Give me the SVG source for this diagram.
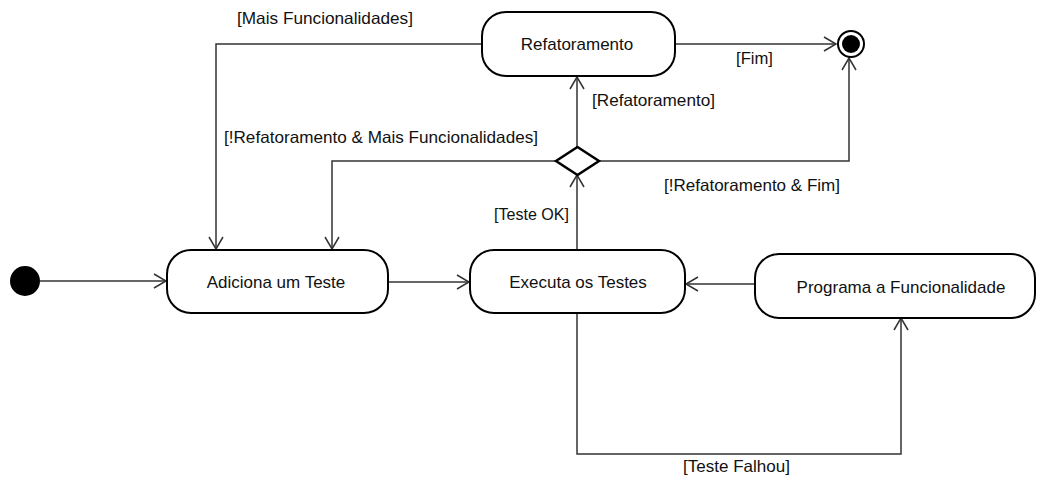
<svg xmlns="http://www.w3.org/2000/svg" width="1038" height="479" viewBox="0 0 1038 479">
<style>
.node{fill:#fff;stroke:#000;stroke-width:2}
.conn{fill:none;stroke:#333;stroke-width:1.5}
.nt{font-family:"Liberation Sans",Arial,sans-serif;font-size:17px;fill:#111;text-anchor:middle}
.lt{font-family:"Liberation Sans",Arial,sans-serif;font-size:16.5px;fill:#111}
</style>
<defs>
<marker id="arr" viewBox="-14 -8 16 16" markerWidth="16" markerHeight="16" refX="0" refY="0" orient="auto" markerUnits="userSpaceOnUse">
<path d="M-12,-7 L0,0 L-12,7" fill="none" stroke="#333" stroke-width="1.5"/>
</marker>
</defs>
<g id="connectors">
<path class="conn" d="M40,281 H166" marker-end="url(#arr)"/>
<path class="conn" d="M388,282 H469" marker-end="url(#arr)"/>
<path class="conn" d="M755,284 H686" marker-end="url(#arr)"/>
<path class="conn" d="M577,313 V454 H901 V318" marker-end="url(#arr)"/>
<path class="conn" d="M577,250 V175" marker-end="url(#arr)"/>
<path class="conn" d="M577,147 V77" marker-end="url(#arr)"/>
<path class="conn" d="M675,44 H836" marker-end="url(#arr)"/>
<path class="conn" d="M599,161 H849 V58" marker-end="url(#arr)"/>
<path class="conn" d="M556,161 H332 V249" marker-end="url(#arr)"/>
<path class="conn" d="M481,44 H216 V249" marker-end="url(#arr)"/>
<text class="lt" x="237" y="24" textLength="176" lengthAdjust="spacingAndGlyphs">[Mais Funcionalidades]</text>
<text class="lt" x="736" y="64" textLength="37" lengthAdjust="spacingAndGlyphs">[Fim]</text>
<text class="lt" x="592" y="106" textLength="123" lengthAdjust="spacingAndGlyphs">[Refatoramento]</text>
<text class="lt" x="224" y="143" textLength="314" lengthAdjust="spacingAndGlyphs">[!Refatoramento &amp; Mais Funcionalidades]</text>
<text class="lt" x="664" y="191" textLength="176" lengthAdjust="spacingAndGlyphs">[!Refatoramento &amp; Fim]</text>
<text class="lt" x="494" y="220" textLength="75" lengthAdjust="spacingAndGlyphs">[Teste OK]</text>
<text class="lt" x="683" y="472" textLength="107" lengthAdjust="spacingAndGlyphs">[Teste Falhou]</text>
</g>
<g id="initial"><circle cx="25" cy="281" r="15" fill="#000"/></g>
<g id="final">
<circle cx="851" cy="44" r="13" fill="#fff" stroke="#000" stroke-width="2"/>
<circle cx="851" cy="44" r="9" fill="#000"/>
</g>
<g id="decision"><path d="M577.5,147 L599,161 L577.5,175 L556,161 Z" fill="#fff" stroke="#000" stroke-width="2.5" stroke-linejoin="miter"/></g>
<g id="refatoramento">
<rect class="node" x="482" y="12" width="193" height="64" rx="24" ry="24"/>
<text class="nt" x="577" y="50">Refatoramento</text>
</g>
<g id="adiciona">
<rect class="node" x="167" y="250" width="221" height="63" rx="24" ry="24"/>
<text class="nt" x="276" y="288">Adiciona um Teste</text>
</g>
<g id="executa">
<rect class="node" x="470" y="250" width="215" height="63" rx="24" ry="24"/>
<text class="nt" x="578" y="288">Executa os Testes</text>
</g>
<g id="programa">
<rect class="node" x="755" y="254" width="280" height="64" rx="24" ry="24"/>
<text class="nt" x="901" y="293">Programa a Funcionalidade</text>
</g>
</svg>
